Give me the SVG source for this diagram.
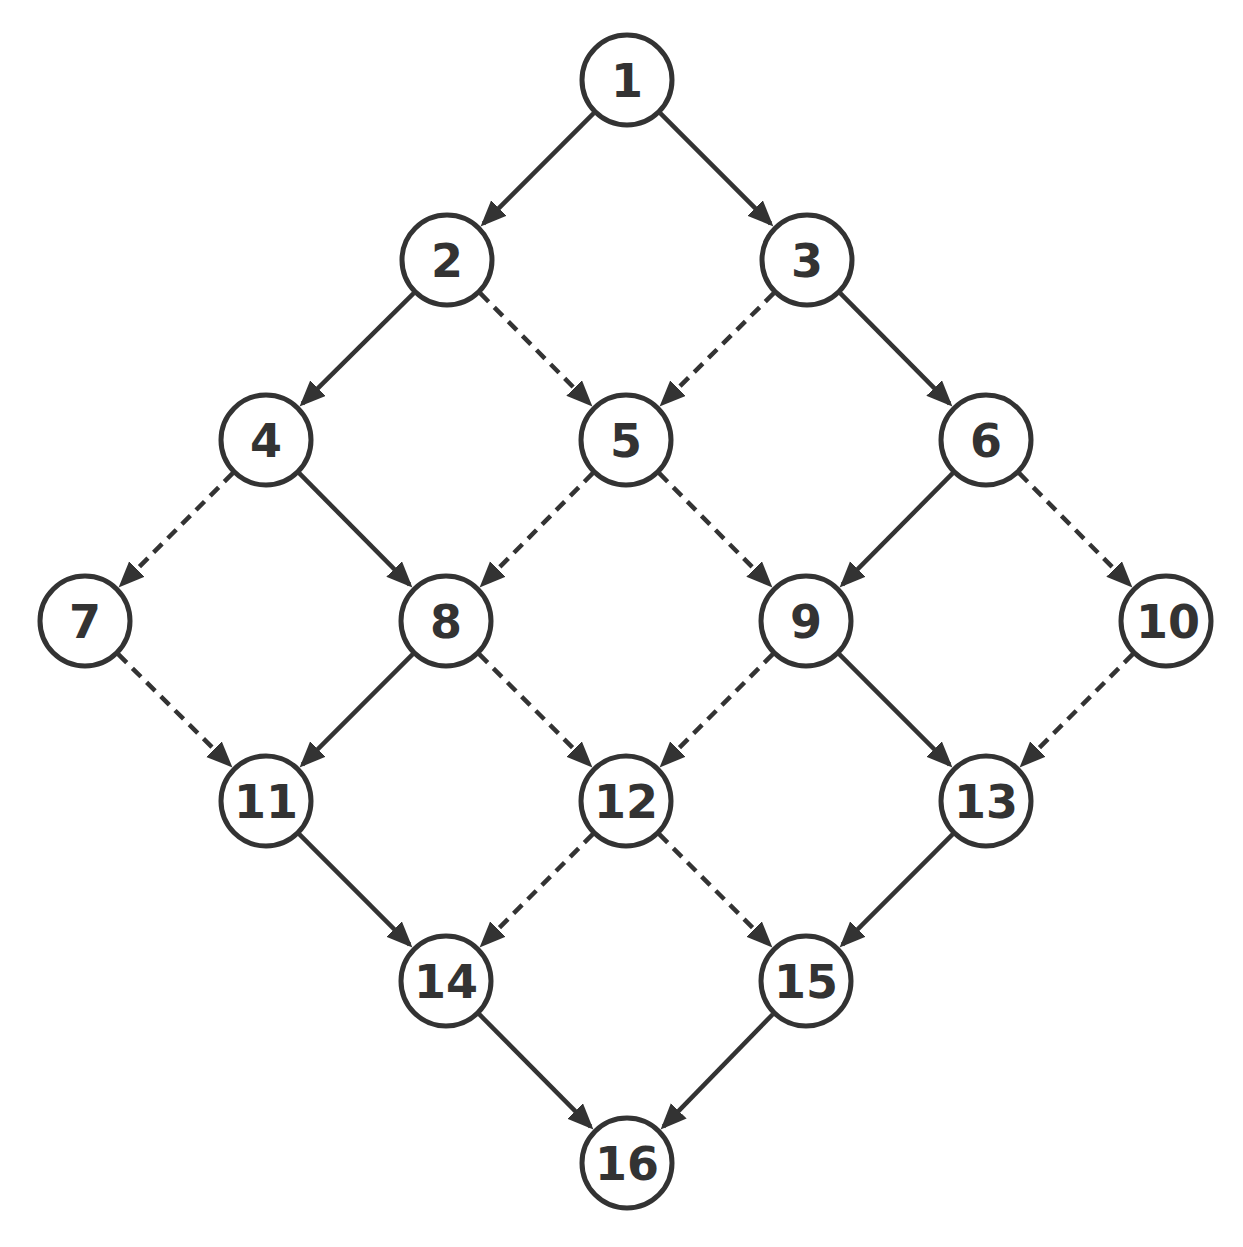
<svg xmlns="http://www.w3.org/2000/svg" width="1243" height="1247" viewBox="0 0 1243 1247">
<style>
.n circle{fill:#fff;stroke:#333;stroke-width:5}
.n text{font-family:"DejaVu Sans",sans-serif;font-weight:bold;font-size:46px;fill:#333;text-anchor:middle}
.e line{stroke:#333;stroke-width:4.5;marker-end:url(#ah)}
.e line.d{stroke-dasharray:12 8}
</style>
<defs>
<marker id="ah" markerUnits="userSpaceOnUse" markerWidth="28" markerHeight="24" refX="22" refY="11" orient="auto">
<path d="M0,0 L26,11 L0,22 z" fill="#333"/>
</marker>
</defs>
<rect width="1243" height="1247" fill="#fff"/>
<g id="connectors" class="e">
<line x1="593.8" y1="113.2" x2="483.4" y2="223.6"/>
<line x1="660.2" y1="113.2" x2="770.6" y2="223.6"/>
<line x1="413.8" y1="293.2" x2="302.4" y2="403.6"/>
<line class="d" x1="480.2" y1="293.2" x2="589.6" y2="403.6"/>
<line class="d" x1="773.8" y1="293.2" x2="662.4" y2="403.6"/>
<line x1="840.2" y1="293.2" x2="949.6" y2="403.6"/>
<line class="d" x1="232.8" y1="473.2" x2="121.4" y2="584.6"/>
<line x1="299.2" y1="473.2" x2="409.6" y2="584.6"/>
<line class="d" x1="592.8" y1="473.2" x2="482.4" y2="584.6"/>
<line class="d" x1="659.2" y1="473.2" x2="769.6" y2="584.6"/>
<line x1="952.8" y1="473.2" x2="842.4" y2="584.6"/>
<line class="d" x1="1019.2" y1="473.2" x2="1129.6" y2="584.6"/>
<line class="d" x1="118.2" y1="654.2" x2="229.6" y2="764.6"/>
<line x1="412.8" y1="654.2" x2="302.4" y2="764.6"/>
<line class="d" x1="479.2" y1="654.2" x2="589.6" y2="764.6"/>
<line class="d" x1="772.8" y1="654.2" x2="662.4" y2="764.6"/>
<line x1="839.2" y1="654.2" x2="949.6" y2="764.6"/>
<line class="d" x1="1132.8" y1="654.2" x2="1022.4" y2="764.6"/>
<line x1="299.2" y1="834.2" x2="409.6" y2="944.6"/>
<line class="d" x1="592.8" y1="834.2" x2="482.4" y2="944.6"/>
<line class="d" x1="659.2" y1="834.2" x2="769.6" y2="944.6"/>
<line x1="952.8" y1="834.2" x2="842.4" y2="944.6"/>
<line x1="479.2" y1="1014.2" x2="590.6" y2="1126.6"/>
<line x1="772.8" y1="1014.2" x2="663.4" y2="1126.6"/>
</g>
<g id="n1" class="n"><circle cx="627" cy="80" r="45"/><text x="627" y="97">1</text></g>
<g id="n2" class="n"><circle cx="447" cy="260" r="45"/><text x="447" y="277">2</text></g>
<g id="n3" class="n"><circle cx="807" cy="260" r="45"/><text x="807" y="277">3</text></g>
<g id="n4" class="n"><circle cx="266" cy="440" r="45"/><text x="266" y="457">4</text></g>
<g id="n5" class="n"><circle cx="626" cy="440" r="45"/><text x="626" y="457">5</text></g>
<g id="n6" class="n"><circle cx="986" cy="440" r="45"/><text x="986" y="457">6</text></g>
<g id="n7" class="n"><circle cx="85" cy="621" r="45"/><text x="85" y="638">7</text></g>
<g id="n8" class="n"><circle cx="446" cy="621" r="45"/><text x="446" y="638">8</text></g>
<g id="n9" class="n"><circle cx="806" cy="621" r="45"/><text x="806" y="638">9</text></g>
<g id="n10" class="n"><circle cx="1166" cy="621" r="45"/><text x="1168" y="638">10</text></g>
<g id="n11" class="n"><circle cx="266" cy="801" r="45"/><text x="266" y="818">11</text></g>
<g id="n12" class="n"><circle cx="626" cy="801" r="45"/><text x="626" y="818">12</text></g>
<g id="n13" class="n"><circle cx="986" cy="801" r="45"/><text x="986" y="818">13</text></g>
<g id="n14" class="n"><circle cx="446" cy="981" r="45"/><text x="446" y="998">14</text></g>
<g id="n15" class="n"><circle cx="806" cy="981" r="45"/><text x="806" y="998">15</text></g>
<g id="n16" class="n"><circle cx="627" cy="1163" r="45"/><text x="627" y="1180">16</text></g>
</svg>
